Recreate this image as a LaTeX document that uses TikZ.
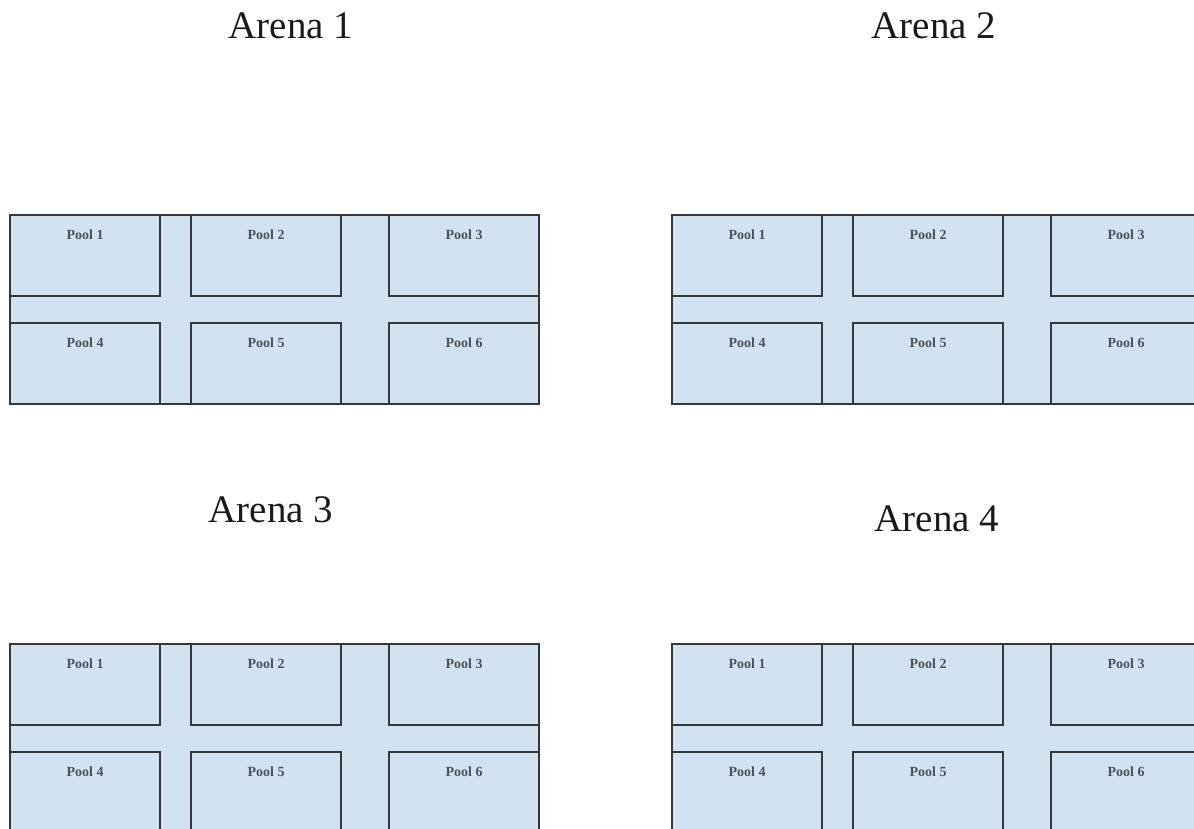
\documentclass[tikz,border=0pt]{standalone}
\usepackage{fontspec}
\setmainfont{Liberation Serif}
\usepackage{xcolor}
\usepackage{tikz}
\usetikzlibrary{positioning}
\definecolor{water}{HTML}{D3E2F1}
\definecolor{edge}{HTML}{33383D}
\definecolor{ink}{HTML}{1A1A1A}
\definecolor{tag}{HTML}{4A525A}
\tikzset{
  arena/.style    = {rectangle, draw=edge, fill=water, line width=2.2pt,
                     minimum width=529pt, minimum height=189pt, inner sep=0pt,
                     anchor=north west},
  pool/.style     = {rectangle, draw=edge, fill=water, line width=2.2pt,
                     minimum width=150pt, minimum height=81pt, inner sep=0pt,
                     anchor=north west},
  pooltag/.style  = {inner sep=0pt, font=\fontsize{14}{16}\selectfont\bfseries,
                     text=tag},
  arenatag/.style = {inner sep=0pt, font=\fontsize{39}{45}\selectfont, text=ink},
}
\begin{document}
\begin{tikzpicture}[x=1pt, y=-1pt]

  \useasboundingbox[fill=white] (0,0) rectangle (1194,829);
  \clip (0,0) rectangle (1194,829);

  \foreach \ar/\ax/\ay/\tx/\ty in {1/0/0/291/26, 2/662/0/934/26, 3/0/429/271/510, 4/662/429/937/519} {
    \node[arenatag] (title\ar) at (\tx,\ty) {Arena \ar};
    \begin{scope}[shift={(\ax,\ay)}]
      \node[arena] (arena\ar) at (9,214) {};
      \foreach \p/\px/\py in {1/9/214, 2/190/214, 3/388/214, 4/9/322, 5/190/322, 6/388/322} {
        \node[pool] (arena\ar pool\p) at (\px,\py) {};
        \node[pooltag, below=16pt of arena\ar pool\p.north] (arena\ar tag\p) {Pool \p};
      }
    \end{scope}
  }

\end{tikzpicture}
\end{document}
